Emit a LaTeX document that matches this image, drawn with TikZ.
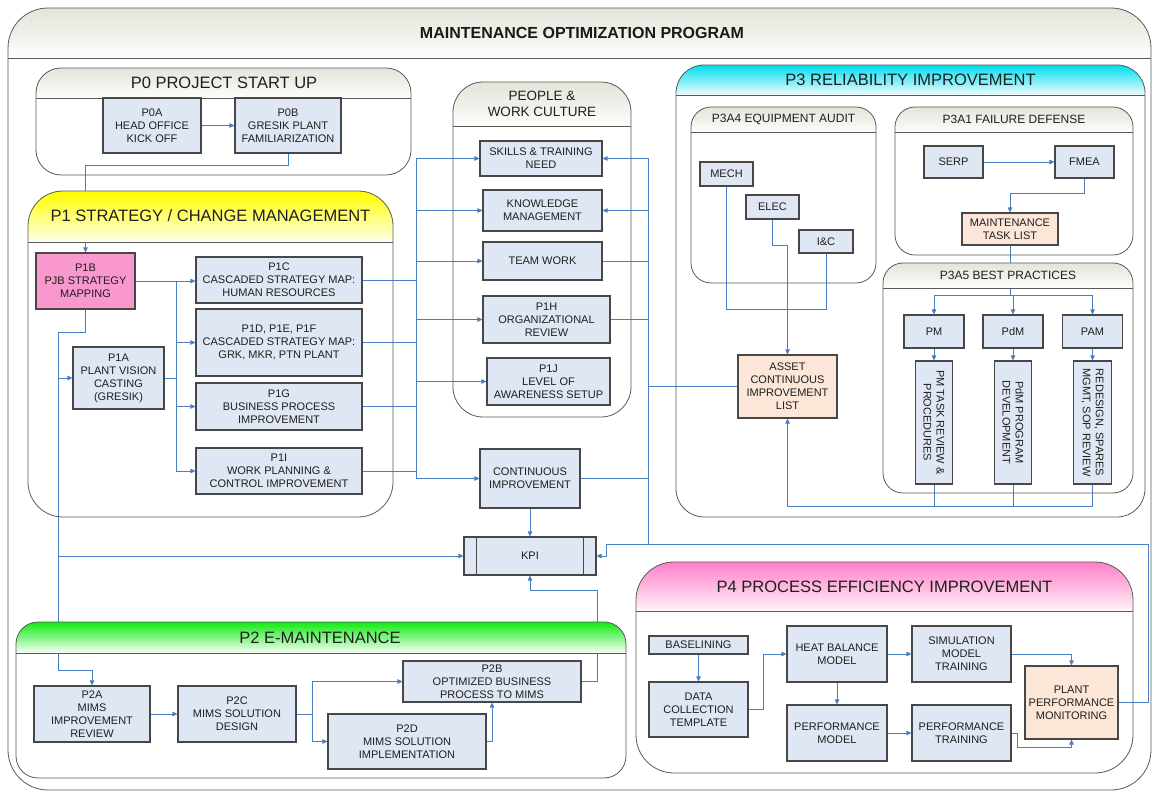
\documentclass[tikz,border=0pt]{standalone}
\usepackage{fontspec}
\setmainfont{Liberation Sans}
\usetikzlibrary{arrows.meta}
\pgfdeclarelayer{back}
\pgfdeclarelayer{wires}
\pgfsetlayers{back,wires,main}

\definecolor{boxblue}{RGB}{222,231,243}
\definecolor{linkblue}{RGB}{74,126,193}
\definecolor{pinkbox}{RGB}{248,152,204}
\definecolor{peach}{RGB}{252,230,216}
\definecolor{greytop}{RGB}{228,228,218}
\definecolor{greylow}{RGB}{253,253,251}
\definecolor{yellowtop}{RGB}{255,255,0}
\definecolor{yellowlow}{RGB}{255,255,240}
\definecolor{cyantop}{RGB}{0,222,240}
\definecolor{cyanlow}{RGB}{240,252,253}
\definecolor{greentop}{RGB}{20,235,20}
\definecolor{greenlow}{RGB}{250,255,250}
\definecolor{pinktop}{RGB}{255,128,200}
\definecolor{pinklow}{RGB}{255,246,250}

\newcommand{\boxfont}{\fontsize{11}{13}\selectfont}
\newcommand{\headfont}{\fontsize{16.5}{19}\selectfont}
\newcommand{\subfont}{\fontsize{12}{14}\selectfont}

\begin{document}
\begin{tikzpicture}[x=1pt, y=-1pt, >={Triangle[length=5pt, width=4.5pt]},
    box/.style={draw=black!72, line width=1.1pt, fill=boxblue, align=center,
        font=\boxfont, text=black!88, inner sep=1pt},
    panel/.style={draw=black!65, line width=0.8pt, rounded corners=#1},
    head/.style n args={3}{path picture={
        \fill[sharp corners, #2] (path picture bounding box.north west)
            rectangle ([yshift=-#3]path picture bounding box.north east);
        \foreach \i in {0,...,18}{
            \pgfmathtruncatemacro{\pc}{100-5*\i}
            \fill[sharp corners, #1!\pc!#2]
                ([yshift=-\i*#3/20]path picture bounding box.north west)
                rectangle ([yshift=-(\i+1.3)*#3/20]path picture bounding box.north east);}
        \draw[sharp corners, draw=black!65, line width=0.8pt]
            ([yshift=-#3]path picture bounding box.north west)
            -- ([yshift=-#3]path picture bounding box.north east);}},
    title/.style={font=\headfont, text=black!88, align=center},
    subtitle/.style={font=\subfont, text=black!88},
    link/.style={->, draw=linkblue, line width=0.9pt},
    wire/.style={draw=linkblue, line width=0.9pt}]

    \useasboundingbox (0,0) rectangle (1152,791);

    % outer frame
    \begin{pgfonlayer}{back}
        \node[panel=40pt, head={greytop}{greylow}{50pt}, minimum width=1143pt, minimum height=782pt] (frame) at (579.5,399) {};
    \end{pgfonlayer}
    \node[font=\bfseries\fontsize{16}{19}\selectfont, text=black!90] (frametitle) at (582,33) {MAINTENANCE OPTIMIZATION PROGRAM};

    % containers
    \node[panel=25pt, head={greytop}{greylow}{30pt}, minimum width=375pt, minimum height=107pt] (p0) at (223.5,121.5) {};
    \node[title] (p0title) at (224,83) {P0 PROJECT START UP};

    \node[panel=35pt, head={yellowtop}{yellowlow}{51pt}, minimum width=365pt, minimum height=326pt] (p1) at (210.5,354) {};
    \node[title] (p1title) at (210.5,216) {P1 STRATEGY / CHANGE MANAGEMENT};

    \node[panel=30pt, head={greytop}{greylow}{44pt}, minimum width=178pt, minimum height=335pt] (people) at (542,249.5) {};
    \node[title, font=\fontsize{13.5}{16}\selectfont] (peopletitle) at (542,104) {PEOPLE \&\\WORK CULTURE};

    \node[panel=28pt, head={cyantop}{cyanlow}{30pt}, minimum width=469pt, minimum height=452pt] (p3) at (910.5,291) {};
    \node[title] (p3title) at (910.5,80) {P3 RELIABILITY IMPROVEMENT};

    \node[panel=20pt, head={greytop}{greylow}{25pt}, minimum width=185pt, minimum height=176pt] (p3a4) at (783.5,195) {};
    \node[subtitle] (p3a4title) at (783.5,119.5) {P3A4 EQUIPMENT AUDIT};

    \node[panel=20pt, head={greytop}{greylow}{25pt}, minimum width=238pt, minimum height=148pt] (p3a1) at (1014,181) {};
    \node[subtitle] (p3a1title) at (1014,119.5) {P3A1 FAILURE DEFENSE};

    \node[panel=20pt, head={greytop}{greylow}{25pt}, minimum width=250pt, minimum height=230pt] (p3a5) at (1008,378) {};
    \node[subtitle] (p3a5title) at (1008,275.5) {P3A5 BEST PRACTICES};

    \node[panel=22pt, head={greentop}{greenlow}{31pt}, minimum width=610pt, minimum height=156pt] (p2) at (321,700) {};
    \node[title] (p2title) at (320,637.5) {P2 E-MAINTENANCE};

    \node[panel=38pt, head={pinktop}{pinklow}{49pt}, minimum width=497pt, minimum height=211pt] (p4) at (884.5,667.5) {};
    \node[title] (p4title) at (884.5,586.5) {P4 PROCESS EFFICIENCY IMPROVEMENT};

    % P0 boxes
    \node[box, minimum width=98pt, minimum height=55pt] (p0a) at (152,125.5) {P0A\\HEAD OFFICE\\KICK OFF};
    \node[box, minimum width=106pt, minimum height=55pt] (p0b) at (288,125.5) {P0B\\GRESIK PLANT\\FAMILIARIZATION};

    % P1 boxes
    \node[box, fill=pinkbox, minimum width=99pt, minimum height=56pt] (p1b) at (85.5,281) {P1B\\PJB STRATEGY\\MAPPING};
    \node[box, minimum width=166pt, minimum height=46pt] (p1c) at (279,280) {P1C\\CASCADED STRATEGY MAP:\\HUMAN RESOURCES};
    \node[box, minimum width=166pt, minimum height=67pt] (p1d) at (279,342.5) {P1D, P1E, P1F\\CASCADED STRATEGY MAP:\\GRK, MKR, PTN PLANT};
    \node[box, minimum width=166pt, minimum height=47pt] (p1g) at (279,406.5) {P1G\\BUSINESS PROCESS\\IMPROVEMENT};
    \node[box, minimum width=166pt, minimum height=46pt] (p1i) at (279,471) {P1I\\WORK PLANNING \&\\CONTROL IMPROVEMENT};
    \node[box, minimum width=91pt, minimum height=62pt] (p1a) at (118.5,378) {P1A\\PLANT VISION\\CASTING\\(GRESIK)};

    % people & work culture
    \node[box, minimum width=122pt, minimum height=35pt] (skills) at (541,158.5) {SKILLS \& TRAINING\\NEED};
    \node[box, minimum width=119pt, minimum height=41pt] (know) at (542.5,210.5) {KNOWLEDGE\\MANAGEMENT};
    \node[box, minimum width=119pt, minimum height=38pt] (team) at (542.5,261) {TEAM WORK};
    \node[box, minimum width=127pt, minimum height=47pt] (p1h) at (546.5,319.5) {P1H\\ORGANIZATIONAL\\REVIEW};
    \node[box, minimum width=123pt, minimum height=47pt] (p1j) at (548.5,381.5) {P1J\\LEVEL OF\\AWARENESS SETUP};

    % continuous improvement and KPI
    \node[box, minimum width=100pt, minimum height=59pt] (ci) at (530,478.5) {CONTINUOUS\\IMPROVEMENT};
    \node[box, minimum width=132pt, minimum height=38pt] (kpi) at (530,556) {KPI};
    \draw[black!72, line width=1.1pt] ([xshift=13pt]kpi.north west) -- ([xshift=13pt]kpi.south west);
    \draw[black!72, line width=1.1pt] ([xshift=-13pt]kpi.north east) -- ([xshift=-13pt]kpi.south east);

    % P3 boxes
    \node[box, minimum width=53pt, minimum height=24pt] (mech) at (726.5,174) {MECH};
    \node[box, minimum width=53pt, minimum height=24pt] (elec) at (772.5,207) {ELEC};
    \node[box, minimum width=54pt, minimum height=23pt] (iandc) at (826,241.5) {I\&C};
    \node[box, fill=peach, minimum width=99pt, minimum height=63pt] (aci) at (787.5,386.5) {ASSET\\CONTINUOUS\\IMPROVEMENT\\LIST};
    \node[box, minimum width=59pt, minimum height=32pt] (serp) at (953.5,162) {SERP};
    \node[box, minimum width=59pt, minimum height=32pt] (fmea) at (1084.5,162) {FMEA};
    \node[box, fill=peach, minimum width=96pt, minimum height=32pt] (mtl) at (1010,229) {MAINTENANCE\\TASK LIST};
    \node[box, minimum width=60pt, minimum height=33pt] (pm) at (934,331.5) {PM};
    \node[box, minimum width=60pt, minimum height=33pt] (pdm) at (1013,331.5) {PdM};
    \node[box, minimum width=60pt, minimum height=33pt] (pam) at (1092.5,331.5) {PAM};
    \node[box, rotate=-90, minimum width=123pt, minimum height=37pt] (pmt) at (934,422.5) {PM TASK REVIEW \&\\PROCEDURES};
    \node[box, rotate=-90, minimum width=123pt, minimum height=37pt] (pdmt) at (1013,422.5) {PdM PROGRAM\\DEVELOPMENT};
    \node[box, rotate=-90, minimum width=123pt, minimum height=38pt] (rdt) at (1092.5,422.5) {REDESIGN, SPARES\\MGMT, SOP REVIEW};

    % P2 boxes
    \node[box, minimum width=116pt, minimum height=56pt] (p2a) at (92,714) {P2A\\MIMS\\IMPROVEMENT\\REVIEW};
    \node[box, minimum width=118pt, minimum height=56pt] (p2c) at (237,714) {P2C\\MIMS SOLUTION\\DESIGN};
    \node[box, minimum width=178pt, minimum height=41pt] (p2b) at (492,681.5) {P2B\\OPTIMIZED BUSINESS\\PROCESS TO MIMS};
    \node[box, minimum width=158pt, minimum height=55pt] (p2d) at (407,741.5) {P2D\\MIMS SOLUTION\\IMPLEMENTATION};

    % P4 boxes
    \node[box, minimum width=99pt, minimum height=18pt] (base) at (698.5,645) {BASELINING};
    \node[box, minimum width=99pt, minimum height=55pt] (dct) at (698.5,709.5) {DATA\\COLLECTION\\TEMPLATE};
    \node[box, minimum width=100pt, minimum height=56pt] (hbm) at (837,654) {HEAT BALANCE\\MODEL};
    \node[box, minimum width=100pt, minimum height=56pt] (perfm) at (837,733) {PERFORMANCE\\MODEL};
    \node[box, minimum width=99pt, minimum height=56pt] (smt) at (961.5,654) {SIMULATION\\MODEL\\TRAINING};
    \node[box, minimum width=99pt, minimum height=56pt] (pt) at (961.5,733) {PERFORMANCE\\TRAINING};
    \node[box, fill=peach, minimum width=93pt, minimum height=73pt] (ppm) at (1071.5,702.5) {PLANT\\PERFORMANCE\\MONITORING};

    \begin{pgfonlayer}{wires}
        % P0
        \draw[link] (p0a) -- (p0b);
        \draw[link] (p0b.south) -- ++(0,12) -| (p1b.north);

        % P1 inside
        \draw[link] (p1b.east) -- (p1b.east -| p1c.west);
        \coordinate (t1) at (176,281);
        \draw[link] (t1) |- (p1d.west);
        \draw[link] (t1) |- (p1g.west);
        \draw[link] (t1) |- (p1i.west);
        \draw[wire] (p1a.east) -- (p1a.east -| t1);
        \coordinate (lt) at (58,332);
        \coordinate (lb) at (58,670);
        \draw[wire] (p1b.south) |- (lt);
        \draw[link] (lt) |- (p1a.west);
        \draw[link] (lt) |- (kpi.west);
        \draw[link] (lt) -- (lb) -| (p2a.north);

        % P1 to people
        \coordinate (t2) at (416,158.5);
        \foreach \n in {p1c,p1d,p1g,p1i}
            \draw[wire] (\n.east) -- (\n.east -| t2);
        \draw[link] (t2) -- (skills.west);
        \foreach \n in {know,team,p1h,p1j,ci}
            \draw[link] (t2) |- (\n.west);

        % people to KPI
        \coordinate (t3) at (648,158.5);
        \coordinate (t4) at (648,544);
        \coordinate (k1) at (606,544);
        \coordinate (r1) at (1148,544);
        \draw[link] (t3) -- (skills.east);
        \draw[link] (t3) |- (know.east);
        \foreach \n in {team,p1h,ci}
            \draw[wire] (\n.east) -- (\n.east -| t3);
        \draw[wire] (aci.west) -- (aci.west -| t3);
        \draw[wire] (t3) -- (t4) -- (k1);
        \draw[link] (ci) -- (kpi);
        \draw[link] (ppm.east) -| (r1) -- (k1) |- (kpi.east);

        % P2
        \draw[link] (p2a) -- (p2c);
        \coordinate (m1) at (312,714);
        \draw[wire] (p2c.east) -- (m1);
        \draw[link] (m1) |- (p2b.west);
        \draw[link] (m1) |- (p2d.west);
        \draw[link] (p2d.east) -| (p2b.south);
        \coordinate (k2) at (597,590);
        \draw[link] (p2b.east) -| (k2) -| (kpi.south);

        % P3 equipment audit
        \coordinate (j1) at (787.5,309);
        \draw[wire] (mech.south) |- (j1);
        \draw[wire] (iandc.south) |- (j1);
        \draw[link] (elec.south) -- ++(0,26) -| (aci.north);

        % P3 failure defense and best practices
        \draw[link] (serp) -- (fmea);
        \draw[link] (fmea.south) -- ++(0,15) -| (mtl.north);
        \draw[link] (mtl.south) -- ++(0,50) -| (pm.north);
        \draw[link] (mtl.south) -- ++(0,50) -| (pdm.north);
        \draw[link] (mtl.south) -- ++(0,50) -| (pam.north);
        \draw[link] (pm) -- (pmt);
        \draw[link] (pdm) -- (pdmt);
        \draw[link] (pam) -- (rdt);
        \coordinate (j3) at (787.5,506);
        \draw[wire] (pmt.east) |- (j3);
        \draw[wire] (pdmt.east) |- (j3);
        \draw[link] (rdt.east) |- (j3) -- (aci.south);

        % P4
        \draw[link] (base) -- (dct);
        \draw[link] (dct.east) -- ++(15,0) |- (hbm.west);
        \draw[link] (hbm) -- (smt);
        \draw[link] (hbm) -- (perfm);
        \draw[link] (perfm) -- (pt);
        \draw[link] (smt.east) -| (ppm.north);
        \coordinate (j4) at (1071.5,747);
        \draw[link] (pt.east) -- ++(6,0) |- (j4) -- (ppm.south);
    \end{pgfonlayer}
\end{tikzpicture}
\end{document}
